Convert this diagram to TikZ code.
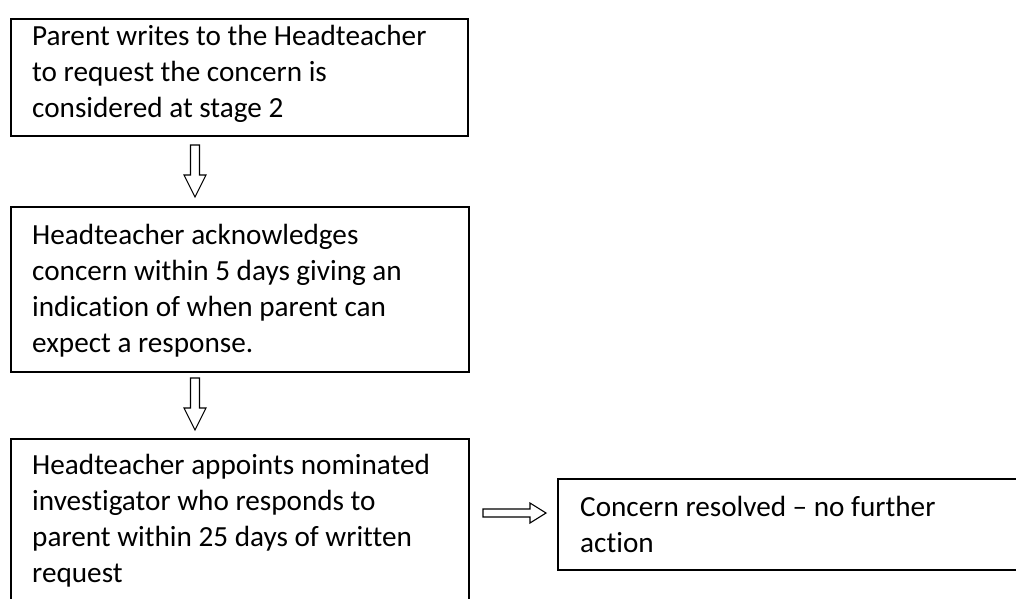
\documentclass[tikz,border=0pt]{standalone}
\usepackage{fontspec}
\setmainfont[Ligatures={NoCommon}]{Carlito}
\usetikzlibrary{calc}
\tikzset{
  box/.style={draw=black, line width=1.6pt, inner sep=0pt, anchor=north west, fill=none},
  txt/.style={anchor=north west, inner sep=0pt, align=left, font=\fontsize{29.2}{36}\selectfont},
  hollow/.style={draw=black, line width=1.1pt, fill=white, line join=miter},
  downarrow/.pic={\draw[hollow] (-4.5,-52) -- (4.5,-52) -- (4.5,-22) -- (11,-22) -- (0,0) -- (-11,-22) -- (-4.5,-22) -- cycle;},
  rightarrow/.pic={\draw[hollow] (-63,-4) -- (-16,-4) -- (-16,-10) -- (0,0) -- (-16,10) -- (-16,4) -- (-63,4) -- cycle;}
}
\begin{document}
\begin{tikzpicture}[x=1pt,y=-1pt]
\useasboundingbox (0,0) rectangle (1016,598);
\clip (0,0) rectangle (1016,598);
\fill[white] (0,0) rectangle (1016,598);
% boxes
\node[box, minimum width=457pt, minimum height=117pt] (b1) at (10,18) {};
\node[box, minimum width=458pt, minimum height=165pt] (b2) at (10,206) {};
\node[box, minimum width=458pt, minimum height=182pt] (b3) at (10,438) {};
\node[box, minimum width=473pt, minimum height=91pt] (b4) at (557,478) {};
% texts
\node[txt] (t1) at ($(b1.north west)+(22,2)$) {\strut Parent writes to the Headteacher\\to request the concern is\\considered at stage 2};
\node[txt] (t2) at ($(b2.north west)+(22,13.3)$) {\strut Headteacher acknowledges\\concern within 5 days giving an\\indication of when parent can\\expect a response.};
\node[txt] (t3) at ($(b3.north west)+(22,11.3)$) {\strut Headteacher appoints nominated\\investigator who responds to\\parent within 25 days of written\\request};
\node[txt] (t4) at ($(b4.north west)+(23,13)$) {\strut Concern resolved -- no further\\action};
% arrows
\coordinate (a1) at ($(b2.north west)+(185,-9)$);
\coordinate (a2) at ($(b3.north west)+(185,-8)$);
\coordinate (a3) at ($(b4.west |- 0,513)+(-11,0)$);
\pic at (a1) {downarrow};
\pic at (a2) {downarrow};
\pic at (a3) {rightarrow};
\end{tikzpicture}
\end{document}
